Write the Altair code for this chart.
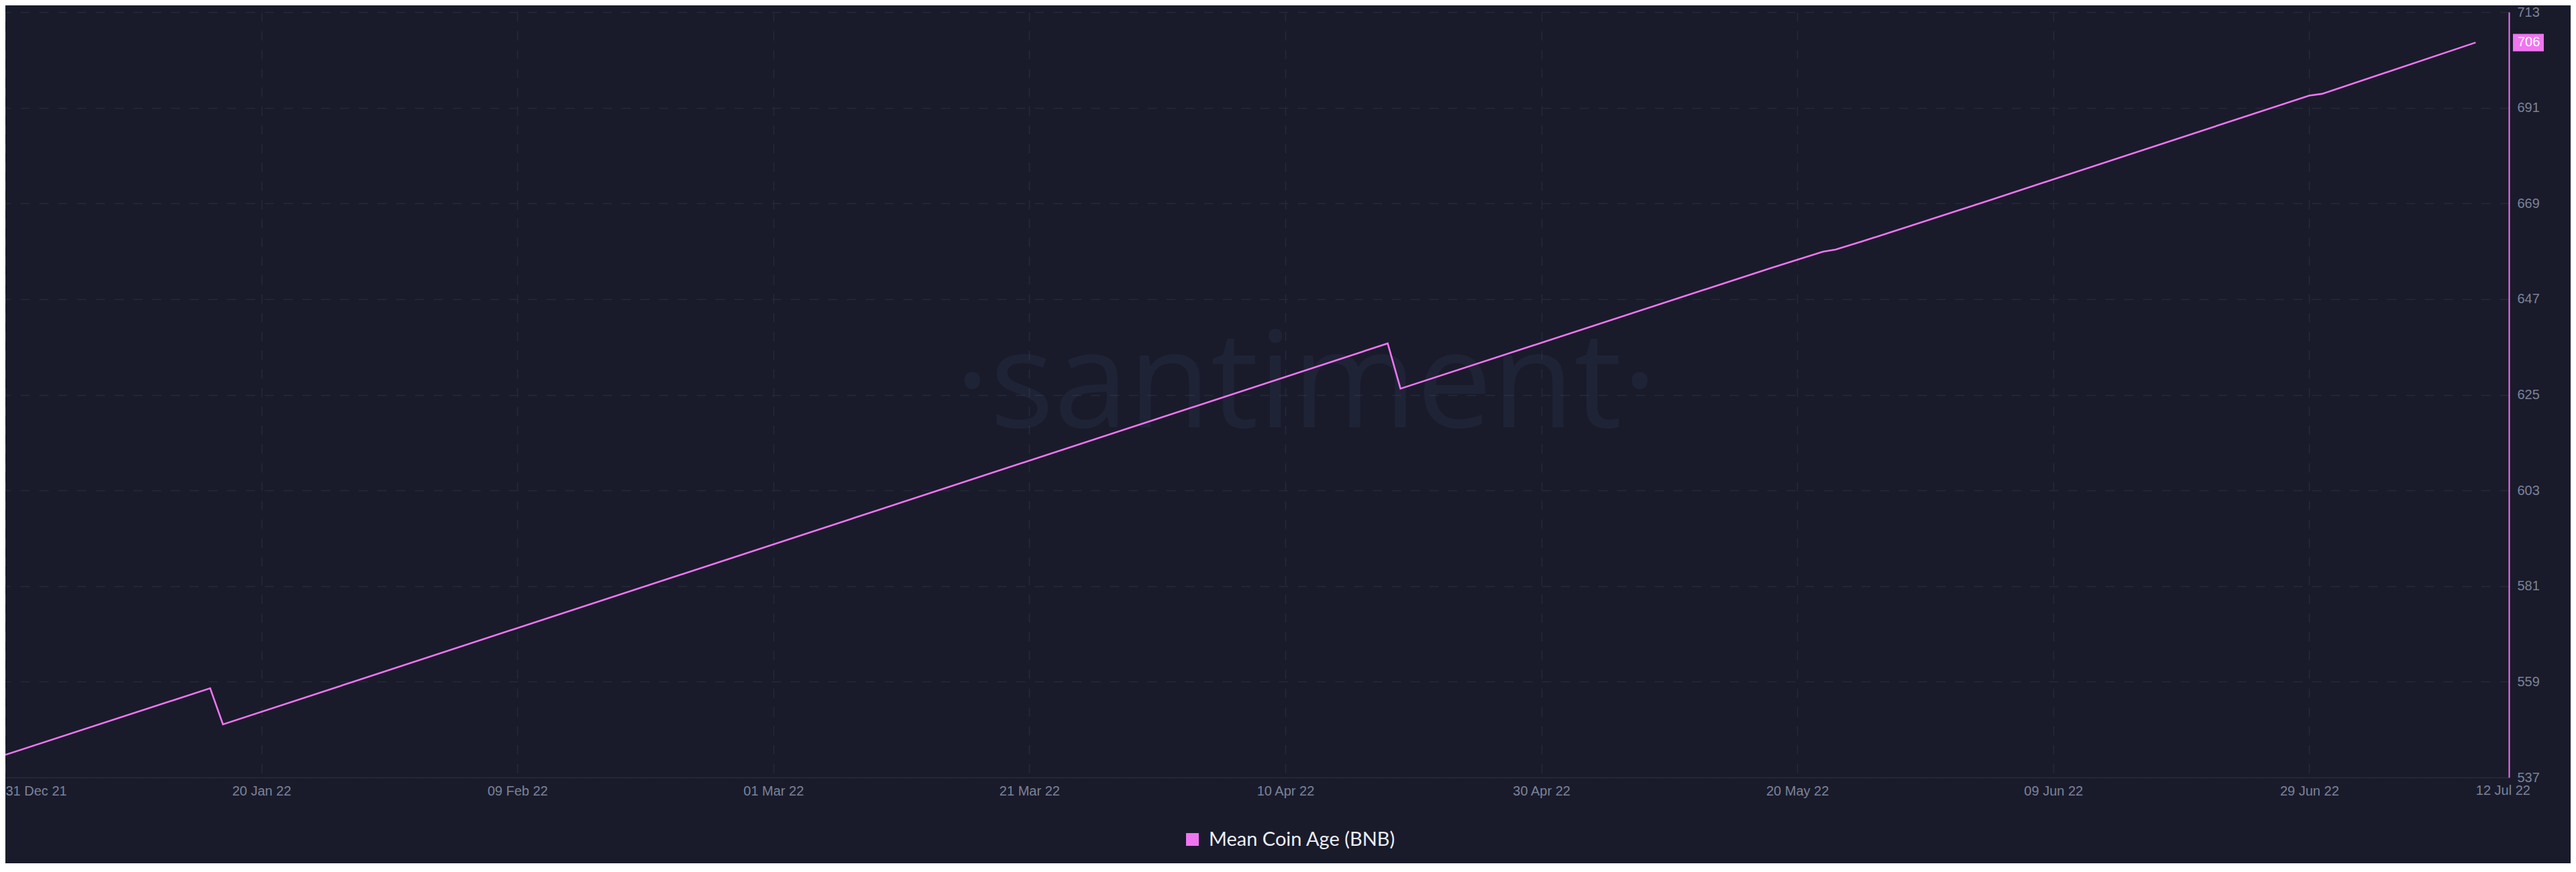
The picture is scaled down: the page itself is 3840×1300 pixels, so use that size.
import altair as alt
import pandas as pd

# ---- data ----
dates = ["2021-12-31", "2022-01-16", "2022-01-17", "2022-04-18", "2022-04-19",
         "2022-05-18", "2022-05-22", "2022-05-23", "2022-05-25", "2022-06-04",
         "2022-06-29", "2022-06-30", "2022-07-12"]
values = [542.2, 557.5, 549.2, 636.8, 626.4,
          654.2, 657.9, 658.4, 660.2, 669.7,
          693.8, 694.2, 706.0]
series_name = "Mean Coin Age (BNB)"

x_tick_dates = ["2021-12-31", "2022-01-20", "2022-02-09", "2022-03-01", "2022-03-21",
                "2022-04-10", "2022-04-30", "2022-05-20", "2022-06-09", "2022-06-29"]
x_end_label = "12 Jul 22"
x_domain = ["2021-12-31T00:00", "2022-07-14T14:24"]
y_ticks = [537, 559, 581, 603, 625, 647, 669, 691, 713]
y_domain = [537, 713]
watermark = "\u00b7santiment\u00b7"

# ---- style ----
BG = "#191b2b"
PINK = "#f075f0"
GRID = "#262939"
LABEL = "#7b8398"
W, H = 3732, 1141


def dt(s):
    d = pd.Timestamp(s)
    return alt.DateTime(year=d.year, month=d.month, date=d.day,
                        hours=d.hour, minutes=d.minute, utc=True)


df = pd.DataFrame({
    "date": [d + "T00:00:00Z" for d in dates],
    "value": values,
    "series": series_name,
})
last = df.tail(1).copy()
last["label"] = [f"{v:.0f}" for v in last["value"]]
last["endlabel"] = x_end_label

xscale = alt.Scale(type="utc", domain=[dt(d) for d in x_domain])
yscale = alt.Scale(domain=y_domain, nice=False, zero=False)

x_axis = alt.Axis(
    values=[dt(d) for d in x_tick_dates], format="%d %b %y", title=None,
    grid=True, gridColor=GRID, gridDash=[14, 14], gridWidth=1.5,
    ticks=False, domainColor="#282b3c", domainWidth=1.5,
    labelFont="Liberation Sans", labelFontSize=20, labelColor=LABEL,
    labelPadding=20, labelBaseline="middle", labelFlush=True,
)
y_axis = alt.Axis(
    orient="right", values=y_ticks, title=None,
    grid=True, gridColor=GRID, gridDash=[14, 14], gridWidth=1.5,
    ticks=False, domainColor=PINK, domainWidth=2,
    labelFont="Liberation Sans", labelFontSize=20, labelColor=LABEL,
    labelPadding=12, labelAlign="left", labelBaseline="middle",
)

wm = alt.Chart(last).mark_text(
    text=watermark, font="Open Sans", fontSize=200, fontWeight=400,
    color="#7890c8", opacity=0.065, align="center", baseline="alphabetic",
).encode(x=alt.value(W * 0.5195), y=alt.value(619))

line = alt.Chart(df).mark_line(strokeWidth=2.6, interpolate="linear").encode(
    x=alt.X("date:T", scale=xscale, axis=x_axis),
    y=alt.Y("value:Q", scale=yscale, axis=y_axis),
    color=alt.Color(
        "series:N", scale=alt.Scale(range=[PINK]),
        legend=alt.Legend(
            orient="none", legendX=1755, legendY=1219, title=None,
            symbolType="square", symbolSize=361, symbolFillColor=PINK,
            symbolStrokeColor=PINK, symbolStrokeWidth=0, symbolOpacity=1,
            labelFont="Lato", labelFontSize=29, labelColor="#eceef3",
            labelOffset=10, labelLimit=800, padding=0,
        ),
    ),
)

badge = alt.Chart(last).mark_rect(color=PINK, height=26).encode(
    x=alt.value(W + 6), x2=alt.value(W + 52),
    y=alt.Y("value:Q", scale=yscale),
)
badge_text = alt.Chart(last).mark_text(
    font="Liberation Sans", fontSize=20, color="#ffffff",
    align="left", baseline="middle", dx=13,
).encode(
    x=alt.value(W), y=alt.Y("value:Q", scale=yscale), text="label:N",
)
end_text = alt.Chart(last).mark_text(
    font="Liberation Sans", fontSize=20, color=LABEL,
    align="center", baseline="middle", dx=41, dy=20,
).encode(
    x=alt.X("date:T", scale=xscale), y=alt.value(H), text="endlabel:N",
)

chart = alt.layer(wm, line, badge, badge_text, end_text).properties(
    width=W, height=H,
    autosize=alt.AutoSizeParams(type="none"),
    padding={"left": 0, "top": 10, "right": 92, "bottom": 128},
    background=BG,
).configure_view(stroke=None)

chart.save("out.html", embed_options={"renderer": "svg", "actions": False})
